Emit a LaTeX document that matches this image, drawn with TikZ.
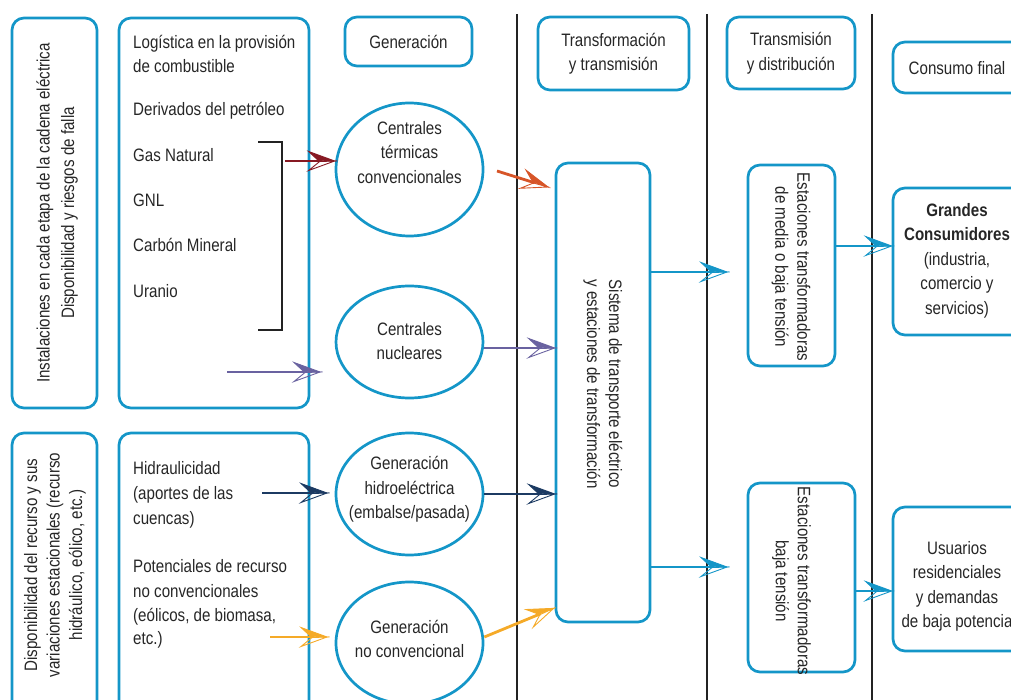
\documentclass[tikz,border=0pt]{standalone}
\usepackage{fontspec}
\setmainfont{Liberation Sans}[FakeStretch=0.84]
\usetikzlibrary{arrows.meta,calc,shapes.geometric}

% Half-filled barb: upper wing solid, lower wing drawn as an outline
\pgfdeclarearrow{
  name=Barb,
  defaults={length=26pt,width=19pt},
  setup code={
    \pgfarrowssettipend{0pt}
    \pgfarrowssetlineend{-.55\pgfarrowlength}
    \pgfarrowssetbackend{-\pgfarrowlength}
    \pgfarrowssetvisualbackend{-.6\pgfarrowlength}
    \pgfarrowshullpoint{0pt}{0pt}
    \pgfarrowsupperhullpoint{-\pgfarrowlength}{.5\pgfarrowwidth}
    \pgfarrowssavethe\pgfarrowlength
    \pgfarrowssavethe\pgfarrowwidth
  },
  drawing code={
    \pgfsetdash{}{0pt}
    \pgfsetmiterjoin
    \pgfsetlinewidth{0.9pt}
    \pgfpathmoveto{\pgfpointorigin}
    \pgfpathlineto{\pgfqpoint{-\pgfarrowlength}{-.5\pgfarrowwidth}}
    \pgfpathlineto{\pgfqpoint{-.58\pgfarrowlength}{-.03\pgfarrowwidth}}
    \pgfpathclose
    \pgfusepathqstroke
    \pgfpathmoveto{\pgfpointorigin}
    \pgfpathlineto{\pgfqpoint{-\pgfarrowlength}{.5\pgfarrowwidth}}
    \pgfpathlineto{\pgfqpoint{-.62\pgfarrowlength}{.02\pgfarrowwidth}}
    \pgfpathclose
    \pgfusepathqfillstroke
  },
  parameters={\the\pgfarrowlength,\the\pgfarrowwidth},
}

\definecolor{cy}{RGB}{20,150,200}
\definecolor{dred}{RGB}{135,25,35}
\definecolor{ored}{RGB}{215,85,40}
\definecolor{purp}{RGB}{105,98,160}
\definecolor{navy}{RGB}{28,58,98}
\definecolor{oran}{RGB}{245,170,40}
\definecolor{rule}{RGB}{35,35,35}

\begin{document}
\begin{tikzpicture}[x=1pt,y=-1pt,
  every node/.style={font=\fontsize{18}{24.5}\selectfont, inner sep=0pt, text=black!85},
  frame/.style={draw=cy, line width=2.7pt, rounded corners=12pt},
  bub/.style={ellipse, draw=cy, line width=2.7pt, minimum width=147, minimum height=#1},
  flow/.style={line width=2.8pt, -{Barb}},
  sepline/.style={draw=rule, line width=2.8pt},
  item/.style={anchor=base west}
]
\useasboundingbox (0,0) rectangle (1011,700);

% stage separators
\coordinate (s1t) at (517,14);  \coordinate (s1b) at (517,700);
\coordinate (s2t) at (707,14);  \coordinate (s2b) at (707,700);
\coordinate (s3t) at (872,14);  \coordinate (s3b) at (872,700);
\draw[sepline] (s1t) -- (s1b);
\draw[sepline] (s2t) -- (s2b);
\draw[sepline] (s3t) -- (s3b);

% left column frames
\node[frame, minimum width=85, minimum height=390] (lt) at (54.5,213) {};
\node[rotate=90, align=center] (ltx) at (57,213)
  {Instalaciones en cada etapa de la cadena eléctrica\\Disponibilidad y riesgos de falla};
\node[frame, minimum width=190, minimum height=390] (fuel) at (214,213) {};
\node[frame, minimum width=85, minimum height=300] (lb) at (54.5,583) {};
\node[rotate=90, align=center, font=\fontsize{18}{22.5}\selectfont] (lbx) at (55,565)
  {Disponibilidad del recurso y sus\\variaciones estacionales (recurso\\hidráulico, eólico, etc.)};
\node[frame, minimum width=190, minimum height=300] (res) at (214,583) {};

% fuel list
\node[item] (f1) at (133,48.5) {Logística en la provisión};
\node[item] (f2) at (133,72.5) {de combustible};
\node[item] (f3) at (133,115.5) {Derivados del petróleo};
\node[item] (f4) at (133,161.5) {Gas Natural};
\node[item] (f5) at (133,206.5) {GNL};
\node[item] (f6) at (133,251.5) {Carbón Mineral};
\node[item] (f7) at (133,297.5) {Uranio};
\coordinate (bk1) at (258,142); \coordinate (bk2) at (282,142);
\coordinate (bk3) at (282,330); \coordinate (bk4) at (258,330);
\draw[line width=1.1pt, rule] (bk1) -- (bk2) -- (bk3) -- (bk4);

% resource list
\node[item] (r1) at (133,474.5) {Hidraulicidad};
\node[item] (r2) at (133,499.5) {(aportes de las};
\node[item] (r3) at (133,524.5) {cuencas)};
\node[item] (r4) at (133,572.5) {Potenciales de recurso};
\node[item] (r5) at (133,597.5) {no convencionales};
\node[item] (r6) at (133,621.5) {(eólicos, de biomasa,};
\node[item] (r7) at (133,644.5) {etc.)};

% stage headers
\node[frame, minimum width=127, minimum height=49] (hgen) at (408.5,41.5) {Generación};
\node[frame, minimum width=151, minimum height=73, align=center] (htr) at (613.5,53.5)
  {Transformación\\y transmisión};
\node[frame, minimum width=128, minimum height=72, align=center] (hdis) at (791,53)
  {Transmisión\\y distribución};
\node[frame, minimum width=140, minimum height=51] (hcon) at (963,67.5) {};
\node (hconx) at (957,68) {Consumo final};

% generation
\node[bub=133] (term) at (409.5,169.5) {};
\node[align=center] (termx) at (409.5,152.5) {Centrales\\térmicas\\convencionales};
\node[bub=112] (nuc) at (409.5,342) {};
\node[align=center] (nucx) at (409.5,341) {Centrales\\nucleares};
\node[bub=122] (hyd) at (409.5,494) {};
\node[align=center] (hydx) at (409.5,489.5) {Generación\\hidroeléctrica\\(embalse/pasada)};
\node[bub=122] (ncv) at (409.5,643) {};
\node[align=center] (ncvx) at (409.5,639) {Generación\\no convencional};

% transmission and distribution
\node[frame, minimum width=94, minimum height=459] (sys) at (603,392.5) {};
\node[rotate=-90, align=center, font=\fontsize{18}{22}\selectfont] (sysx) at (603,384)
  {Sistema de transporte eléctrico\\y estaciones de transformación};
\node[frame, minimum width=87, minimum height=201] (med) at (791.5,265.5) {};
\node[rotate=-90, align=center, font=\fontsize{18}{22}\selectfont] (medx) at (791,267)
  {Estaciones transformadoras\\de media o baja tensión};
\node[frame, minimum width=107, minimum height=189] (baj) at (801.5,577.5) {};
\node[rotate=-90, align=center, font=\fontsize{18}{22}\selectfont] (bajx) at (791.5,581)
  {Estaciones transformadoras\\baja tensión};

% final consumption
\node[frame, minimum width=140, minimum height=147] (gc) at (963,261.5) {};
\node[align=center] (gcx) at (957,260.5)
  {\textbf{Grandes}\\\textbf{Consumidores}\\(industria,\\comercio y\\servicios)};
\node[frame, minimum width=140, minimum height=144] (usr) at (963,579) {};
\node[align=center] (usrx) at (957,586.5)
  {Usuarios\\residenciales\\y demandas\\de baja potencia};

% flows
\coordinate (brk) at (285,161);
\draw[flow, dred] (brk) -- (brk -| term.west);
\coordinate (o1) at (497,171); \coordinate (o2) at (548,187);
\draw[flow, ored] (o1) -- (o2);
\coordinate (pu1) at (227,372); \coordinate (pu2) at (320,372);
\draw[flow, purp] (pu1) -- (pu2);
\coordinate (nucout) at ([yshift=-6pt]nuc.east);
\draw[flow, purp] (nucout) -- (nucout -| sys.west);
\coordinate (nv1) at (262,493); \coordinate (nv2) at (327,493);
\draw[flow, navy] (nv1) -- (nv2);
\draw[flow, navy] (hyd.east) -- (hyd.east -| sys.west);
\coordinate (or1) at (270,637); \coordinate (or2) at (327,637);
\draw[flow, oran] (or1) -- (or2);
\coordinate (ncvout) at ([yshift=6pt]ncv.east);
\coordinate (sysin) at ($(sys.south west)+(-1,-15)$);
\draw[flow, oran] (ncvout) -- (sysin);
\coordinate (m1) at (727,272);
\draw[flow, cy] (sys.east |- m1) -- (m1);
\coordinate (b1) at (727,567);
\draw[flow, cy] (sys.east |- b1) -- (b1);
\coordinate (g1) at (0,246);
\draw[flow, cy] (med.east |- g1) -- (gc.west |- g1);
\coordinate (u1) at (0,591);
\draw[flow, cy] (baj.east |- u1) -- (usr.west |- u1);
\end{tikzpicture}
\end{document}
